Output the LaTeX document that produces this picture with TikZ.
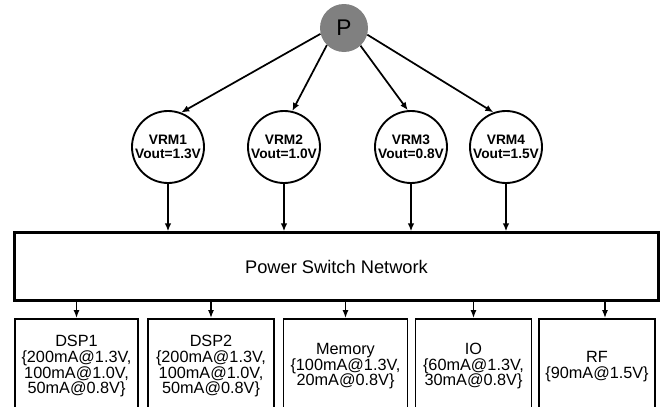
\documentclass[tikz,border=0pt]{standalone}
\usepackage{fontspec}
\setmainfont{Liberation Sans}
\usetikzlibrary{arrows.meta}

\begin{document}
\begin{tikzpicture}[x=0.75pt, y=-0.75pt,
    vrm/.style={circle, draw, line width=1.4pt, minimum size=54pt, inner sep=0pt,
      align=center, font=\fontsize{10.3}{10.5}\selectfont\bfseries},
    load/.style={draw, line width=1.4pt, anchor=north, minimum height=71pt,
      inner xsep=2pt, align=center, font=\fontsize{12.2}{11.8}\selectfont},
    arr/.style={-{Latex[length=6pt,width=5pt]}, line width=1.3pt},
    thin arr/.style={-{Latex[length=6pt,width=4.5pt]}, line width=0.9pt}]
    \useasboundingbox (0,0) rectangle (662,407);

    % 電源
    \node[circle, fill={rgb,255:red,128;green,128;blue,128}, minimum size=36pt,
      inner sep=0pt, font=\fontsize{17}{17}\selectfont] (P) at (344, 28) {P};

    % レギュレータ
    \node[vrm] (VRM1) at (168, 147) {VRM1\\Vout=1.3V};
    \node[vrm] (VRM2) at (284, 147) {VRM2\\Vout=1.0V};
    \node[vrm] (VRM3) at (411, 147) {VRM3\\Vout=0.8V};
    \node[vrm] (VRM4) at (506, 147) {VRM4\\Vout=1.5V};

    % スイッチ網
    \node[draw, line width=1.8pt, minimum width=483pt, minimum height=51pt,
      font=\fontsize{13.7}{14}\selectfont] (PSN) at (336.5, 266.5) {Power Switch Network};

    % 負荷
    \node[load, minimum width=92pt] (DSP1) at (76.5, 318) {DSP1\\\{200mA@1.3V,\\100mA@1.0V,\\50mA@0.8V\}};
    \node[load, minimum width=94pt] (DSP2) at (211, 318) {DSP2\\\{200mA@1.3V,\\100mA@1.0V,\\50mA@0.8V\}};
    \node[load, minimum width=93pt] (MEM) at (345.5, 318) {Memory\\\{100mA@1.3V,\\20mA@0.8V\}};
    \node[load, minimum width=87pt] (IO) at (473.5, 318) {IO\\\{60mA@1.3V,\\30mA@0.8V\}};
    \node[load, minimum width=87pt] (RF) at (597, 318) {RF\\\{90mA@1.5V\}};

    % 線を引く
    \draw[arr] (P.194) -- (VRM1.69);
    \draw[arr] (P.225) -- (VRM2.77);
    \draw[arr] (P.313) -- (VRM3.95);
    \draw[arr] (P.344) -- (VRM4.110);

    \draw[arr] (VRM1.south) -- (VRM1.south |- PSN.north);
    \draw[arr] (VRM2.south) -- (VRM2.south |- PSN.north);
    \draw[arr] (VRM3.south) -- (VRM3.south |- PSN.north);
    \draw[arr] (VRM4.south) -- (VRM4.south |- PSN.north);

    \draw[thin arr] (DSP1.north |- PSN.south) -- (DSP1.north);
    \draw[thin arr] (DSP2.north |- PSN.south) -- (DSP2.north);
    \draw[thin arr] (MEM.north |- PSN.south) -- (MEM.north);
    \draw[thin arr] (IO.north |- PSN.south) -- (IO.north);
    \draw[thin arr] ([xshift=6pt]RF.north |- PSN.south) -- ([xshift=6pt]RF.north);

\end{tikzpicture}
\end{document}
